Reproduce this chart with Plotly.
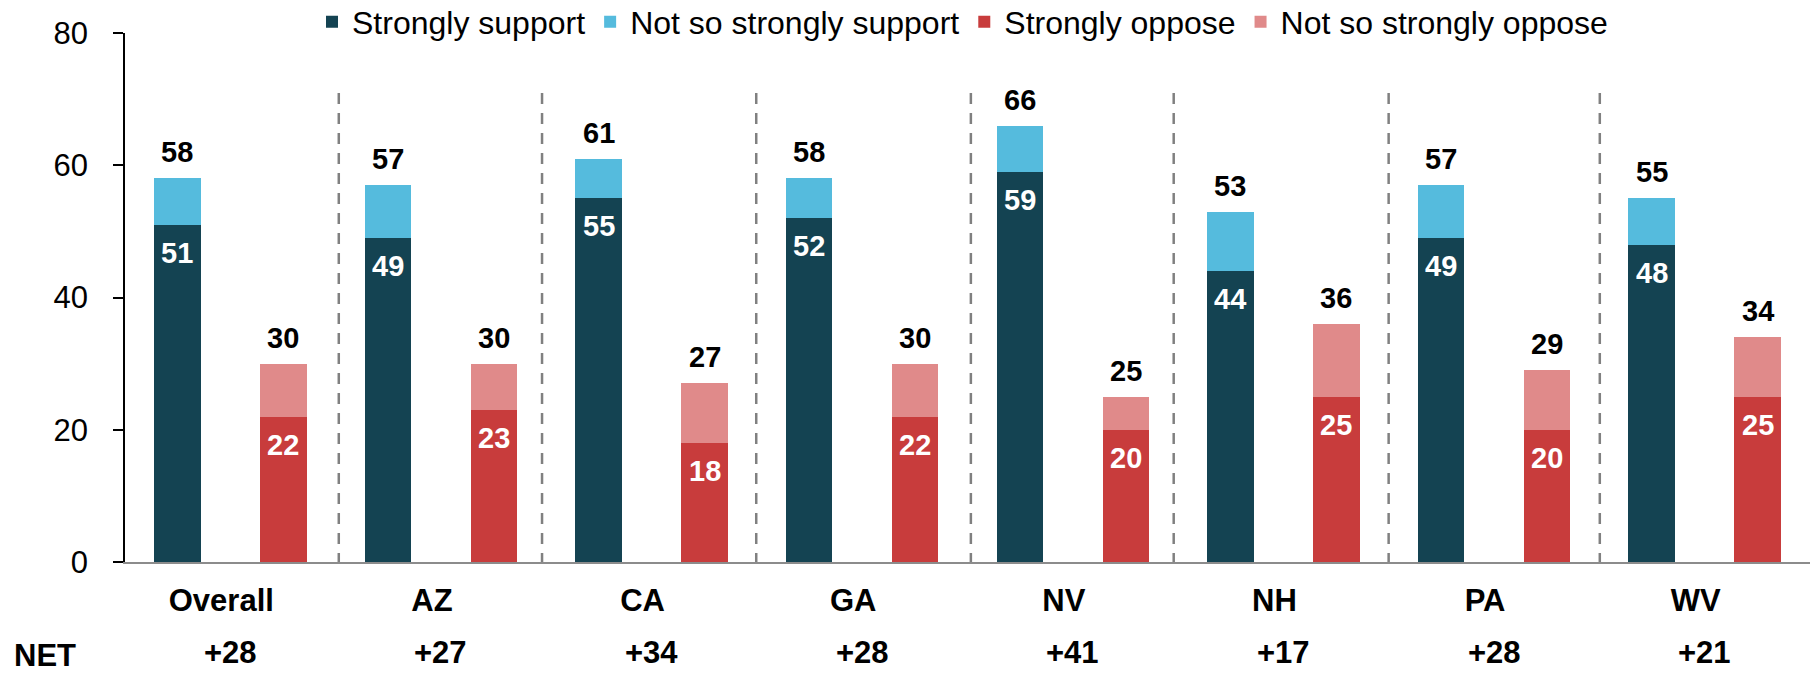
import plotly.graph_objects as go

# ---------------- data ----------------
categories = ["Overall", "AZ", "CA", "GA", "NV", "NH", "PA", "WV"]
strongly_support = [51, 49, 55, 52, 59, 44, 49, 48]
total_support = [58, 57, 61, 58, 66, 53, 57, 55]
strongly_oppose = [22, 23, 18, 22, 20, 25, 20, 25]
total_oppose = [30, 30, 27, 30, 25, 36, 29, 34]
net_labels = ["+28", "+27", "+34", "+28", "+41", "+17", "+28", "+21"]
y_ticks = [0, 20, 40, 60, 80]

series_names = ["Strongly support", "Not so strongly support",
                "Strongly oppose", "Not so strongly oppose"]

# ---------------- style ----------------
FONT = "Liberation Sans, Arial, sans-serif"
C_SS = "#144352"
C_NSS = "#55BBDD"
C_SO = "#C83C3C"
C_NSO = "#E08A8A"

FIG_W = 1810
FIG_H = 674

OFF = 0.2515
BW = 0.2207

idx = list(range(len(categories)))
sup_x = [i - OFF for i in idx]
opp_x = [i + OFF for i in idx]
not_so_support = [t - s for t, s in zip(total_support, strongly_support)]
not_so_oppose = [t - s for t, s in zip(total_oppose, strongly_oppose)]

fig = go.Figure()
fig.add_bar(x=sup_x, y=strongly_support, width=BW, name=series_names[0],
            marker=dict(color=C_SS, line=dict(width=0)))
fig.add_bar(x=sup_x, y=not_so_support, width=BW, name=series_names[1],
            marker=dict(color=C_NSS, line=dict(width=0)))
fig.add_bar(x=opp_x, y=strongly_oppose, width=BW, name=series_names[2],
            marker=dict(color=C_SO, line=dict(width=0)))
fig.add_bar(x=opp_x, y=not_so_oppose, width=BW, name=series_names[3],
            marker=dict(color=C_NSO, line=dict(width=0)))

ann = []
lab_font_dark = dict(family=FONT, size=29, color="#000000", weight="bold")
lab_font_white = dict(family=FONT, size=29, color="#FFFFFF", weight="bold")
for i in idx:
    ann.append(dict(x=sup_x[i], y=total_support[i], text=str(total_support[i]),
                    showarrow=False, yanchor="middle", yshift=26, font=lab_font_dark))
    ann.append(dict(x=sup_x[i], y=strongly_support[i], text=str(strongly_support[i]),
                    showarrow=False, yanchor="middle", yshift=-28, font=lab_font_white))
    ann.append(dict(x=opp_x[i], y=total_oppose[i], text=str(total_oppose[i]),
                    showarrow=False, yanchor="middle", yshift=26, font=lab_font_dark))
    ann.append(dict(x=opp_x[i], y=strongly_oppose[i], text=str(strongly_oppose[i]),
                    showarrow=False, yanchor="middle", yshift=-28, font=lab_font_white))
    ann.append(dict(x=i, xref="x", y=-0.172, yref="paper", text=net_labels[i],
                    showarrow=False, yanchor="middle", font=dict(family=FONT, size=31,
                                                                  color="#000000", weight="bold")))
ann.append(dict(x=-0.0671, xref="paper", y=-0.176, yref="paper", text="NET",
                showarrow=False, xanchor="left", yanchor="middle",
                font=dict(family=FONT, size=31, color="#000000", weight="bold")))

# group separators (dashed)
sep_x = [0.515, 1.480, 2.497, 3.516, 4.479, 5.4995, 6.502]
shapes = [dict(type="line", xref="x", yref="y", x0=s, x1=s, y0=-0.3, y1=71.3,
               line=dict(color="#808080", width=2.5, dash="11px,9px")) for s in sep_x]

fig.update_layout(
    width=FIG_W, height=FIG_H, autosize=False,
    margin=dict(l=125, r=0, t=33, b=674 - 562, autoexpand=False),
    barmode="stack",
    plot_bgcolor="white", paper_bgcolor="white",
    font=dict(family=FONT, color="#000000"),
    showlegend=True,
    legend=dict(orientation="h", xref="container", yref="paper",
                x=312 / FIG_W, xanchor="left", y=(562 - 22) / 529,
                yanchor="middle",
                font=dict(family=FONT, size=32, color="#000000"),
                traceorder="normal", bgcolor="rgba(0,0,0,0)"),
    annotations=ann,
    shapes=shapes,
    xaxis=dict(range=[-0.5, 7.5], tickvals=idx, ticktext=categories,
               showgrid=False, zeroline=False, showline=True,
               linecolor="#8C8C8C", linewidth=1.5, ticks="",
               ticklabelshift=-9, ticklabelstandoff=10,
               tickfont=dict(family=FONT, size=31, color="#000000", weight="bold")),
    yaxis=dict(range=[0, 80], tickvals=y_ticks, showgrid=False, zeroline=False,
               showline=True, linecolor="#000000", linewidth=1.5,
               ticks="outside", ticklen=10, tickwidth=1.5, tickcolor="#000000",
               ticklabelstandoff=19,
               tickfont=dict(family=FONT, size=31, color="#000000")),
)

# remove the default 8px page margin so the figure fills the window exactly
fig.write_html("out.html",
               config={"displayModeBar": False},
               post_script="document.body.style.margin='0px';"
                           "document.body.style.overflow='hidden';")
